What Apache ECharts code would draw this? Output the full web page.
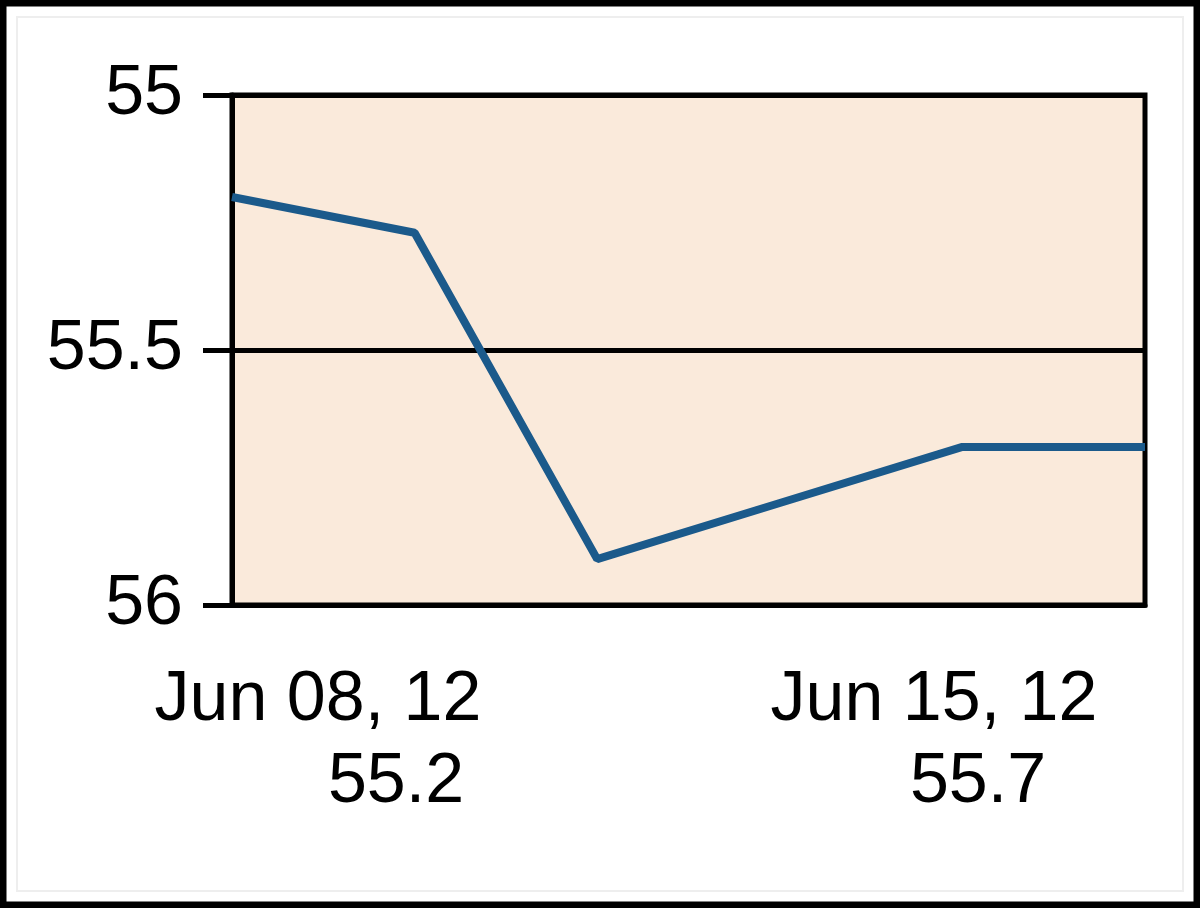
<!DOCTYPE html>
<html>
<head>
<meta charset="utf-8">
<script src="https://cdn.jsdelivr.net/npm/echarts@6/dist/echarts.min.js"></script>
<style>
html,body{margin:0;padding:0;background:#fff;}
#chart{width:1200px;height:908px;}
</style>
</head>
<body>
<div id="chart"></div>
<script>
// Data
const categories = ['Jun 08, 12', 'Jun 11, 12', 'Jun 12, 12', 'Jun 13, 12', 'Jun 14, 12', 'Jun 15, 12'];
const values = [55.2, 55.27, 55.91, 55.8, 55.69, 55.69];
const yTicks = [55, 55.5, 56];
const firstLabel = ['Jun 08, 12', '55.2'];
const lastLabel = ['Jun 15, 12', '55.7'];

const FONT = '"Liberation Sans", Arial, sans-serif';
const FS = 70;
const chart = echarts.init(document.getElementById('chart'), null, {renderer: 'canvas'});

const option = {
  animation: false,
  backgroundColor: '#ffffff',
  grid: {
    left: 232, right: 55, top: 95, bottom: 303,
    show: true,
    backgroundColor: '#FAEADB',
    borderColor: '#000',
    borderWidth: 5
  },
  xAxis: {
    type: 'category',
    data: categories,
    boundaryGap: false,
    axisLine: {show: true, lineStyle: {color: '#000', width: 5}},
    axisTick: {show: false},
    axisLabel: {show: false},
    splitLine: {show: false}
  },
  yAxis: {
    type: 'value',
    inverse: true,
    min: yTicks[0],
    max: yTicks[yTicks.length - 1],
    interval: 0.5,
    axisLine: {show: true, lineStyle: {color: '#000', width: 5}},
    axisTick: {show: true, length: 29, lineStyle: {color: '#000', width: 5}},
    axisLabel: {
      margin: 49,
      color: '#000',
      fontFamily: FONT,
      fontSize: FS,
      formatter: v => String(v)
    },
    splitLine: {show: true, lineStyle: {color: '#000', width: 5}}
  },
  series: [{
    type: 'line',
    data: values,
    symbol: 'none',
    lineStyle: {color: '#1B5A8B', width: 8},
    z: 5
  }],
  graphic: [
    {type: 'rect', shape: {x: 3, y: 3, width: 1194, height: 902}, style: {fill: 'none', stroke: '#000', lineWidth: 7}, z: 100},
    {type: 'rect', shape: {x: 17, y: 17, width: 1166, height: 874}, style: {fill: 'none', stroke: '#eeeeee', lineWidth: 2}, z: 99},
    {type: 'text', style: {text: firstLabel[0], x: 318, y: 701, textAlign: 'center', textVerticalAlign: 'middle', font: FS + 'px ' + FONT, fill: '#000'}},
    {type: 'text', style: {text: firstLabel[1], x: 396, y: 783, textAlign: 'center', textVerticalAlign: 'middle', font: FS + 'px ' + FONT, fill: '#000'}},
    {type: 'text', style: {text: lastLabel[0], x: 934, y: 701, textAlign: 'center', textVerticalAlign: 'middle', font: FS + 'px ' + FONT, fill: '#000'}},
    {type: 'text', style: {text: lastLabel[1], x: 978, y: 783, textAlign: 'center', textVerticalAlign: 'middle', font: FS + 'px ' + FONT, fill: '#000'}}
  ]
};
chart.setOption(option);
</script>
</body>
</html>
